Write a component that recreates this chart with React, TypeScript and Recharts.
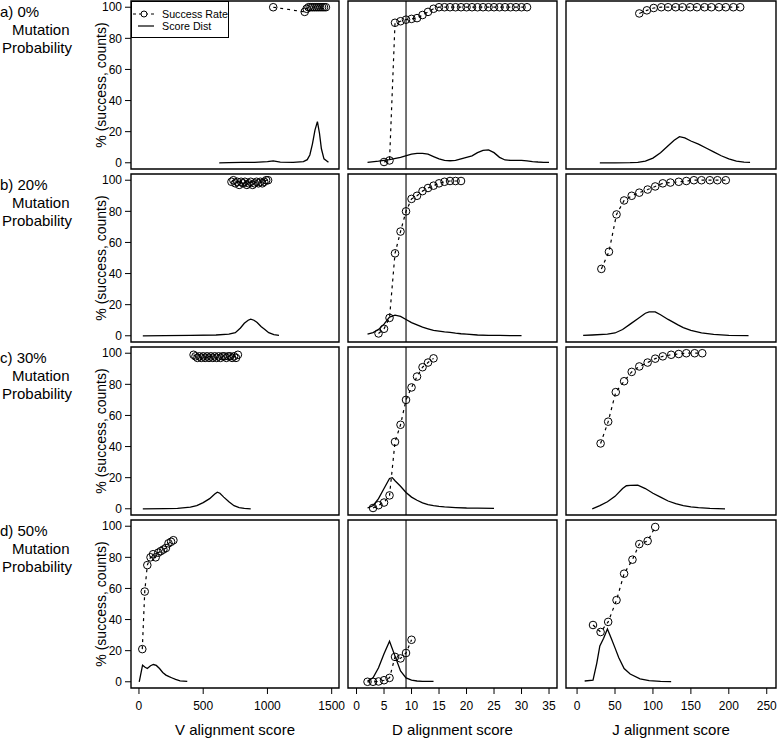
import { LineChart, Line, XAxis, YAxis, ReferenceArea, ReferenceLine, Legend } from 'recharts';

type Pt = [number, number];

const rowLabels = ['a) 0%', 'b) 20%', 'c) 30%', 'd) 50%'];
const seriesNames = ['Success Rate', 'Score Dist'];
const yTicks = [0, 20, 40, 60, 80, 100];
const vTicks = [0, 500, 1000, 1500];
const dTicks = [0, 5, 10, 15, 20, 25, 30, 35];
const jTicks = [0, 50, 100, 150, 200, 250];
const dCutoff = 9;

// a) 0% mutation
const vSucc0: Pt[] = [[1045, 100], [1290, 97], [1305, 99], [1320, 100], [1335, 100], [1350, 100], [1365, 100], [1380, 100], [1395, 100], [1410, 100], [1425, 100], [1440, 100], [1455, 100]];
const vDist0: Pt[] = [[625, 0], [700, 0.1], [800, 0.2], [900, 0.3], [1000, 0.8], [1045, 1.2], [1100, 0.4], [1200, 0.3], [1280, 0.8], [1310, 2], [1330, 5], [1350, 12], [1370, 21], [1389, 26.5], [1405, 19], [1420, 9], [1440, 2.5], [1475, 0.3]];
const dSucc0: Pt[] = [[5, 0.5], [6, 1.5], [7, 90], [8, 91], [9, 92], [10, 92.5], [11, 93], [12, 95], [13, 97], [14, 99], [15, 100], [16, 100], [17, 100], [18, 100], [19, 100], [20, 100], [21, 100], [22, 100], [23, 100], [24, 100], [25, 100], [26, 100], [27, 100], [28, 100], [29, 100], [30, 100], [31, 100]];
const dDist0: Pt[] = [[2, 0.3], [4, 1], [6, 2], [8, 3.5], [10, 5.5], [11, 6], [12, 6], [13, 5.5], [14, 4], [15, 2.5], [16, 1.5], [17, 1.3], [18, 1.5], [19, 2.5], [20, 3.5], [21, 4.5], [22, 6.5], [23, 8], [24, 8.3], [25, 6.5], [26, 3.5], [27, 1.8], [28, 1.5], [29, 1.5], [30, 1.5], [31, 1.2], [32, 0.8], [33, 0.5], [34, 0.3], [35, 0.2]];
const jSucc0: Pt[] = [[82, 96], [92, 98], [101, 99.5], [111, 100], [120, 100], [130, 100], [139, 100], [149, 100], [158, 100], [168, 100], [177, 100], [187, 100], [196, 100], [206, 100], [215, 100]];
const jDist0: Pt[] = [[30, 0], [50, 0], [70, 0.1], [80, 0.3], [90, 1], [100, 3], [110, 6.5], [120, 11], [128, 14.5], [135, 16.8], [142, 16], [150, 14], [160, 12], [170, 9.5], [180, 7], [190, 4.5], [200, 2.5], [210, 1], [220, 0.4], [228, 0.2]];

// b) 20% mutation
const vSucc1: Pt[] = [[720, 99], [735, 100], [750, 98], [765, 99], [780, 97], [795, 99], [810, 98], [825, 99], [840, 97], [855, 98], [870, 99], [885, 97], [900, 98], [915, 99], [930, 98], [945, 99], [960, 98], [975, 99], [990, 100], [1005, 100]];
const vDist1: Pt[] = [[30, 0], [200, 0.1], [400, 0.2], [600, 0.5], [700, 1], [750, 2], [790, 5], [820, 8], [850, 10], [870, 10.7], [895, 10], [920, 8.5], [950, 6], [980, 4], [1010, 2], [1050, 0.7], [1090, 0.2]];
const dSucc1: Pt[] = [[4, 1.5], [5, 4.5], [6, 11.5], [7, 53], [8, 67], [9, 80], [10, 88], [11, 90], [12, 93], [13, 95], [14, 96.5], [15, 98], [16, 99], [17, 99.5], [18, 99.5], [19, 99.5]];
const dDist1: Pt[] = [[2, 1], [3, 2], [4, 4], [5, 7.5], [6, 12], [7, 13.3], [8, 12.5], [9, 10.5], [10, 8.5], [11, 7], [12, 5.5], [13, 4.5], [14, 3.5], [15, 3], [16, 2.5], [17, 2.2], [18, 1.7], [19, 1.3], [20, 1], [22, 0.5], [24, 0.3], [26, 0.2], [28, 0.1], [30, 0.1]];
const jSucc1: Pt[] = [[32, 43], [42, 54], [52, 78], [62, 87], [72, 90], [82, 92], [93, 94], [103, 96], [113, 98], [123, 98.5], [134, 99], [144, 99.5], [154, 100], [164, 100], [175, 100], [185, 100], [196, 100]];
const jDist1: Pt[] = [[8, 0.2], [20, 0.5], [40, 1], [50, 1.8], [60, 4], [70, 7.5], [80, 11], [90, 14.5], [95, 15.4], [103, 15.4], [110, 13.5], [120, 10.5], [133, 7], [140, 5.3], [150, 3.5], [164, 1.9], [180, 0.9], [200, 0.3], [226, 0.1]];

// c) 30% mutation
const vSucc2: Pt[] = [[425, 99], [440, 98], [455, 97], [470, 98], [485, 97], [500, 98], [515, 97], [530, 98], [545, 97], [560, 98], [575, 97], [590, 98], [605, 97], [620, 98], [635, 97], [650, 98], [665, 98], [680, 97], [695, 98], [710, 98], [725, 97], [740, 98], [755, 97], [770, 99]];
const vDist2: Pt[] = [[30, 0], [200, 0.1], [300, 0.3], [400, 1], [450, 2], [500, 4], [550, 6.5], [590, 9.5], [610, 10.7], [630, 10], [660, 7.5], [700, 4.5], [740, 2], [780, 0.8], [820, 0.3], [870, 0]];
const dSucc2: Pt[] = [[3, 0.5], [4, 2.3], [5, 4], [6, 8.6], [7, 43], [8, 54], [9, 70], [10, 78], [11, 85], [12, 91], [13, 94], [14, 96.7]];
const dDist2: Pt[] = [[2, 0.5], [3, 2], [4, 6.5], [5, 13], [6, 19.5], [6.5, 20], [7, 18], [8, 14.5], [9, 10.5], [10, 7.5], [11, 5.5], [12, 3.8], [13, 2.7], [14, 2], [15, 1.5], [16, 1.2], [18, 0.8], [20, 0.5], [22, 0.4], [25, 0.3]];
const jSucc2: Pt[] = [[31, 42], [41, 56], [51, 75], [62, 82], [72, 88], [82, 91.5], [93, 94], [103, 96.5], [113, 98], [124, 99], [134, 99.5], [144, 100], [155, 100], [165, 100]];
const jDist2: Pt[] = [[20, 0], [30, 2], [40, 4.5], [50, 8], [60, 13], [65, 14.8], [70, 15], [80, 15.2], [90, 13], [100, 10], [110, 7.5], [120, 5], [130, 3.3], [140, 2], [150, 1.2], [160, 0.7], [175, 0.3], [195, 0]];

// d) 50% mutation
const vSucc3: Pt[] = [[26, 21], [45, 58], [65, 75], [90, 80], [110, 82], [130, 80], [150, 83], [170, 84], [190, 85], [210, 86], [230, 89], [250, 90], [268, 91]];
const vDist3: Pt[] = [[2, 0], [28, 10.7], [45, 9.5], [65, 8.5], [90, 10.3], [112, 11.1], [135, 10.5], [160, 8.5], [185, 6], [210, 4.3], [235, 3.3], [254, 2.6], [285, 1.5], [320, 0.6], [376, 0.2]];
const dSucc3: Pt[] = [[2, 0], [3, 0], [4, 0.2], [5, 1], [6, 2.5], [7, 16], [8, 15], [9, 18.5], [10, 27]];
const dDist3: Pt[] = [[2, 0.4], [3, 2.5], [4, 9], [5, 18], [6, 26], [7, 16.5], [8, 7], [9, 2.5], [10, 1], [11, 0.5], [12, 0.3], [13, 0.2], [14, 0.2]];
const jSucc3: Pt[] = [[21, 36.5], [31, 32], [41, 38.5], [52, 52.5], [62, 69.5], [73, 78.5], [82, 88.5], [93, 90.5], [103, 99.5]];
const jDist3: Pt[] = [[10, 0.5], [21, 1], [26, 12], [30, 23], [35, 28], [40, 34], [45, 28], [50, 21.8], [55, 15.5], [62, 8.5], [70, 5], [83, 1.9], [95, 0.8], [110, 0.3], [124, 0.1]];

const succ = [[vSucc0, dSucc0, jSucc0], [vSucc1, dSucc1, jSucc1], [vSucc2, dSucc2, jSucc2], [vSucc3, dSucc3, jSucc3]];
const dist = [[vDist0, dDist0, jDist0], [vDist1, dDist1, jDist1], [vDist2, dDist2, jDist2], [vDist3, dDist3, jDist3]];

const toRows = (a: Pt[]) => a.map(([x, y]) => ({ x, y }));

const cols = [
  { left: 131, width: 208, domain: [-62, 1557], ticks: vTicks, title: 'V alignment score' },
  { left: 348, width: 209, domain: [-1.55, 36.45], ticks: dTicks, title: 'D alignment score' },
  { left: 566, width: 210, domain: [-14.6, 262.2], ticks: jTicks, title: 'J alignment score' },
];
const rowTops = [1, 174, 347, 520];
const PH = 168;

// legend drawn in R style: fixed order, boxed
const LegendBox = () => (
  <div style={{ border: '1.3px solid #000', background: '#fff', width: 98, height: 37, boxSizing: 'border-box', fontSize: 10.7, padding: '6px 0 0 0' }}>
    {seriesNames.map((name) => (
      <div key={name} style={{ display: 'flex', alignItems: 'center', height: 12 }}>
        <svg width={30} height={12}>
          {name === 'Success Rate' ? (
            <>
              <line x1={1} x2={22} y1={6} y2={6} stroke="#000" strokeDasharray="3 3" />
              <circle cx={12} cy={6} r={3} fill="#fff" stroke="#000" />
            </>
          ) : (
            <line x1={6} x2={22} y1={6} y2={6} stroke="#000" strokeWidth={1.2} />
          )}
        </svg>
        <span>{name}</span>
      </div>
    ))}
  </div>
);

const Panel = ({ r, c }: { r: number; c: number }) => {
  const col = cols[c];
  const showY = c === 0;
  const showX = r === 3;
  const yW = showY ? 131 : 0;
  const xH = showX ? 53 : 0;
  return (
    <div style={{ position: 'absolute', left: col.left - yW, top: rowTops[r] }}>
      <LineChart width={col.width + yW} height={PH + xH} margin={{ top: 0, right: 0, bottom: 0, left: 0 }}>
        <XAxis
          type="number"
          dataKey="x"
          domain={col.domain}
          ticks={col.ticks}
          allowDataOverflow
          interval={0}
          hide={!showX}
          height={xH}
          axisLine={false}
          tickSize={6}
          tickMargin={7}
          tickLine={{ stroke: '#000' }}
          tick={{ fontSize: 12, fill: '#000' }}
          label={{ value: col.title, position: 'insideBottom', offset: 6, fontSize: 15, fill: '#000' }}
        />
        <YAxis
          type="number"
          domain={[-4, 104]}
          ticks={yTicks}
          allowDataOverflow
          interval={0}
          hide={!showY}
          width={yW}
          axisLine={false}
          tickSize={6}
          tickMargin={3}
          tickLine={{ stroke: '#000' }}
          tick={{ fontSize: 12, fill: '#000' }}
          label={{ value: '% (success, counts)', angle: -90, position: 'insideLeft', offset: 101, fontSize: 14, fill: '#000', style: { textAnchor: 'middle' } }}
        />
        <ReferenceArea x1={col.domain[0]} x2={col.domain[1]} y1={-4} y2={104} fill="none" stroke="#000" strokeWidth={1.4} />
        {c === 1 && <ReferenceLine x={dCutoff} stroke="#000" strokeWidth={1.1} />}
        <Line
          data={toRows(succ[r][c])}
          dataKey="y"
          name={seriesNames[0]}
          type="linear"
          stroke="#000"
          strokeWidth={1.2}
          strokeDasharray="3 4"
          dot={{ r: 3.8, fill: 'none', stroke: '#000', strokeWidth: 1, strokeDasharray: '' }}
          activeDot={false}
          isAnimationActive={false}
        />
        <Line
          data={toRows(dist[r][c])}
          dataKey="y"
          name={seriesNames[1]}
          type="linear"
          stroke="#000"
          strokeWidth={1.3}
          dot={false}
          activeDot={false}
          isAnimationActive={false}
        />
        {r === 0 && c === 0 && (
          <Legend layout="vertical" verticalAlign="middle" align="center" wrapperStyle={{ left: 131, top: 0, width: 'auto' }} content={LegendBox} />
        )}
      </LineChart>
    </div>
  );
};

export default function App() {
  return (
    <div style={{ position: 'absolute', left: 0, top: 0, width: 778, height: 741, background: '#fff', fontFamily: '"Liberation Sans", Arial, Helvetica, sans-serif', color: '#000' }}>
      <style>{'.recharts-surface { overflow: visible; }'}</style>
      {rowLabels.map((lab, i) => (
        <div key={lab} style={{ position: 'absolute', left: 0, top: rowTops[i] + 2, fontSize: 15, lineHeight: '18px' }}>
          <div>{lab}</div>
          <div style={{ paddingLeft: 12 }}>Mutation</div>
          <div style={{ paddingLeft: 2 }}>Probability</div>
        </div>
      ))}
      {[0, 1, 2, 3].map((r) => [0, 1, 2].map((c) => <Panel key={`${r}-${c}`} r={r} c={c} />))}
    </div>
  );
}
